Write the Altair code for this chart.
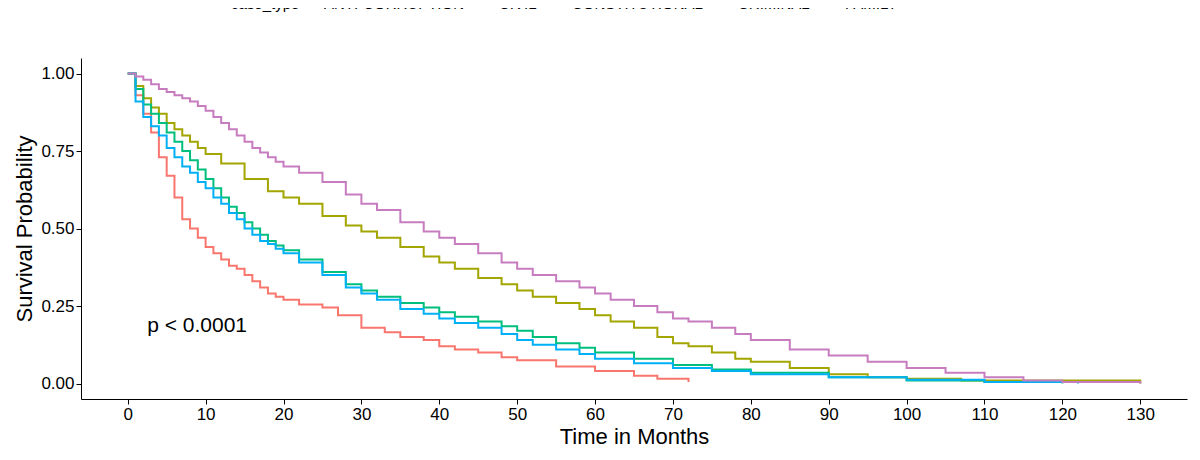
import altair as alt
import pandas as pd

anti_t = [0,1,2,3,4,5,6,7,8,9,10,11,12,13,14,15,16,17,18,19,20,22,25,27,30,33,35,38,40,42,45,48,50,55,60,65,68,72]
anti_s = [1,0.93,0.87,0.81,0.73,0.67,0.6,0.53,0.5,0.47,0.44,0.42,0.4,0.38,0.37,0.35,0.33,0.31,0.29,0.28,0.27,0.255,0.245,0.22,0.18,0.165,0.15,0.14,0.12,0.11,0.1,0.085,0.075,0.055,0.04,0.025,0.015,0.005]
civil_t = [0,1,2,3,4,5,6,7,8,9,10,12,15,18,20,22,25,28,30,32,35,38,40,42,45,48,50,52,55,58,60,62,65,68,70,72,75,78,80,85,90,95,100,107,130]
civil_s = [1,0.96,0.92,0.89,0.87,0.84,0.82,0.8,0.78,0.76,0.74,0.71,0.66,0.62,0.6,0.58,0.54,0.51,0.49,0.47,0.44,0.41,0.39,0.37,0.34,0.32,0.3,0.28,0.26,0.24,0.22,0.2,0.18,0.15,0.13,0.12,0.1,0.08,0.07,0.05,0.03,0.02,0.015,0.01,0.0]
const_t = [0,1,2,3,4,5,6,7,8,9,10,11,12,13,14,15,16,17,18,19,20,22,25,28,30,32,35,38,40,42,45,48,50,52,55,58,60,65,70,75,80,90,100,110,120]
const_s = [1,0.95,0.9,0.87,0.84,0.81,0.78,0.75,0.72,0.69,0.66,0.63,0.6,0.57,0.55,0.52,0.5,0.48,0.46,0.445,0.43,0.4,0.36,0.32,0.3,0.28,0.26,0.245,0.23,0.215,0.2,0.185,0.17,0.15,0.13,0.115,0.1,0.08,0.06,0.045,0.035,0.02,0.01,0.005,0.0]
crim_t = [0,1,2,3,4,5,6,7,8,9,10,11,12,13,14,15,16,17,18,19,20,22,25,28,30,32,35,38,40,42,45,48,50,52,55,58,60,65,70,75,80,90,100,110,122]
crim_s = [1,0.91,0.86,0.83,0.8,0.76,0.73,0.7,0.68,0.65,0.63,0.6,0.58,0.55,0.53,0.5,0.48,0.46,0.45,0.435,0.42,0.39,0.35,0.31,0.29,0.27,0.24,0.225,0.21,0.195,0.18,0.16,0.14,0.125,0.11,0.095,0.08,0.065,0.05,0.04,0.03,0.02,0.012,0.005,0.0]
fam_t = [0,1,2,3,4,5,6,7,8,9,10,11,12,13,14,15,16,17,18,19,20,22,25,28,30,32,35,38,40,42,45,48,50,52,55,58,60,62,65,68,70,72,75,78,80,85,90,95,100,105,110,115,120,130]
fam_s = [1,0.99,0.98,0.965,0.95,0.94,0.93,0.92,0.91,0.895,0.88,0.86,0.84,0.82,0.8,0.78,0.76,0.745,0.73,0.715,0.7,0.68,0.65,0.61,0.58,0.56,0.52,0.49,0.47,0.45,0.42,0.39,0.37,0.35,0.33,0.31,0.29,0.27,0.25,0.23,0.21,0.2,0.18,0.16,0.14,0.11,0.09,0.07,0.05,0.035,0.02,0.01,0.005,0.0]

groups = ["ANTI-CORRUPTION", "CIVIL", "CONSTITUTIONAL", "CRIMINAL", "FAMILY"]
colors = ["#F8766D", "#A3A500", "#00BF7D", "#00B0F6", "#C77CBF"]
series = [(anti_t, anti_s), (civil_t, civil_s), (const_t, const_s), (crim_t, crim_s), (fam_t, fam_s)]

rows = []
for g, (ts, ss) in zip(groups, series):
    for t, s in zip(ts, ss):
        rows.append({"case_type": g, "time": t, "surv": s})
df = pd.DataFrame(rows)

font = "Liberation Sans"
lines = alt.Chart(df).mark_line(interpolate="step-after", strokeWidth=2).encode(
    x=alt.X("time:Q", title="Time in Months", scale=alt.Scale(domain=[-6, 136], nice=False, zero=False),
            axis=alt.Axis(values=list(range(0, 131, 10)), grid=False, domainColor="black", tickColor="black",
                          labelFontSize=17, titleFontSize=22, labelColor="black", titleFontWeight="normal",
                          labelFont=font, titleFont=font, titlePadding=4)),
    y=alt.Y("surv:Q", title="Survival Probability", scale=alt.Scale(domain=[-0.05, 1.05], nice=False),
            axis=alt.Axis(values=[0, 0.25, 0.5, 0.75, 1.0], format=".2f", grid=False, domainColor="black",
                          tickColor="black", labelFontSize=17, titleFontSize=22, labelColor="black",
                          titleFontWeight="normal", labelFont=font, titleFont=font)),
    color=alt.Color("case_type:N", scale=alt.Scale(domain=groups, range=colors),
                    legend=alt.Legend(orient="none", legendX=150, legendY=-62, direction="horizontal",
                                      title="case_type", titleOrient="left", symbolType="stroke",
                                      symbolStrokeWidth=2, labelFontSize=15, titleFontSize=15,
                                      titleFontWeight="normal", labelFont=font, titleFont=font,
                                      columnPadding=14, titleBaseline="middle", labelColor="black",
                                      titleColor="black")),
)

ann = alt.Chart(pd.DataFrame({"time": [2.5], "surv": [0.185], "label": ["p < 0.0001"]})).mark_text(
    align="left", fontSize=21, font=font, color="black").encode(x="time:Q", y="surv:Q", text="label:N")

chart = (lines + ann).properties(
    width=1184, height=444, padding={"top": 50, "left": 5, "right": 5, "bottom": 5},
    autosize=alt.AutoSizeParams(type="fit", contains="padding")
).configure_view(stroke=None)

chart.save("out.html", embed_options={"renderer": "svg", "actions": False})
